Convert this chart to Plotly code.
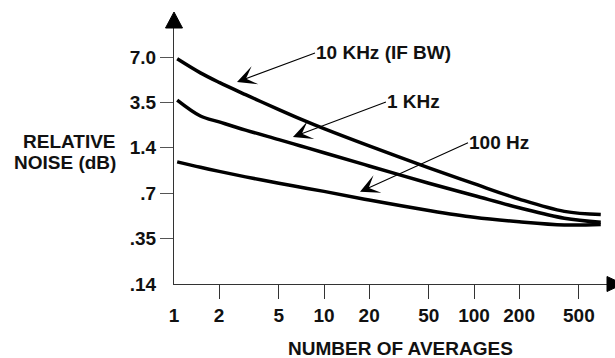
import numpy as np
import plotly.graph_objects as go

# ---- data ----
averages = [1.05, 1.5, 2, 3, 5, 7, 10, 20, 50, 100, 200, 400, 700]
# relative noise, expressed in axis-position units (0 = .14 ... 5 = 7.0)
noise_10khz = [4.96, 4.65, 4.44, 4.17, 3.84, 3.63, 3.42, 3.04, 2.56, 2.21, 1.87, 1.60, 1.53]
noise_1khz = [4.05, 3.70, 3.57, 3.39, 3.18, 3.04, 2.89, 2.60, 2.22, 1.95, 1.68, 1.45, 1.36]
noise_100hz = [2.69, 2.57, 2.48, 2.36, 2.22, 2.13, 2.04, 1.85, 1.62, 1.47, 1.37, 1.30, 1.31]

y_tick_pos = [0, 1, 2, 3, 4, 5]
y_tick_text = [".14", ".35", ".7", "1.4", "3.5", "7.0"]
x_tick_vals = [1, 2, 5, 10, 20, 50, 100, 200, 500]
x_tick_text = ["1", "2", "5", "10", "20", "50", "100", "200", "500"]

FONT = "Arial, Liberation Sans, sans-serif"
FS = 19

fig = go.Figure()
for ys in (noise_10khz, noise_1khz, noise_100hz):
    fig.add_trace(go.Scatter(x=averages, y=ys, mode="lines",
                             line=dict(color="black", width=3.5, shape="spline", smoothing=1.0),
                             showlegend=False, hoverinfo="skip"))

W, H = 615, 358
L, R, T, B = 174, 8, 28, 74
PW, PH = W - L - R, H - T - B

def px(xp):
    return (xp - L) / PW

def py(yp):
    return (H - B - yp) / PH

fig.update_layout(
    width=W, height=H,
    margin=dict(l=L, r=R, t=T, b=B, pad=0),
    paper_bgcolor="white", plot_bgcolor="white",
    font=dict(family=FONT, size=FS, color="#111", weight="bold"),
    xaxis=dict(type="log", range=[0, PW / 150.0],
               showgrid=False, zeroline=False, showline=True,
               linecolor="#333", linewidth=1.2,
               tickmode="array", tickvals=x_tick_vals, ticktext=x_tick_text,
               ticks="outside", ticklen=14, tickcolor="rgba(0,0,0,0)",
               minor=dict(tickmode="array", tickvals=x_tick_vals[1:], ticks="outside",
                          ticklen=14, tickwidth=1, tickcolor="#333", showgrid=False),
               tickfont=dict(family=FONT, size=FS, weight="bold")),
    yaxis=dict(range=[0, PH / 45.4],
               showgrid=False, zeroline=False, showline=True,
               linecolor="#333", linewidth=1.2,
               tickmode="array", tickvals=y_tick_pos, ticktext=y_tick_text,
               ticks="outside", ticklen=13, tickcolor="rgba(0,0,0,0)",
               minor=dict(tickmode="array", tickvals=y_tick_pos[1:], ticks="outside",
                          ticklen=13, tickwidth=1, tickcolor="#555", showgrid=False),
               tickfont=dict(family=FONT, size=FS, weight="bold")),
)

# axis arrowheads
fig.add_shape(type="path", xref="paper", yref="paper",
              path=f"M {px(165.5)} {py(28)} L {px(174)} {py(12)} L {px(182.5)} {py(28)} Z",
              fillcolor="black", line=dict(color="black", width=1))
fig.add_shape(type="path", xref="paper", yref="paper",
              path=f"M {px(607)} {py(276.5)} L {px(623)} {py(284)} L {px(607)} {py(291.5)} Z",
              fillcolor="black", line=dict(color="black", width=1))

# labelled arrows: (text, tip log10(x), tip y, ax, ay)
labels = [
    ("10 KHz (IF BW)", 0.42, 4.45, 78, -29),
    ("1 KHz", 0.793, 3.24, 93, -35),
    ("100 Hz", 1.24, 2.03, 108, -49),
]
for text, lx, ly, ax, ay in labels:
    fig.add_annotation(x=lx, y=ly, xref="x", yref="y", text=text,
                       showarrow=True, ax=ax, ay=ay, xanchor="left", yanchor="middle",
                       arrowhead=3, arrowsize=2.9, arrowwidth=1.1, arrowcolor="black",
                       font=dict(family=FONT, size=FS, weight="bold", color="#111"),
                       borderpad=0)

# axis titles
fig.add_annotation(text="RELATIVE", xref="paper", yref="paper", x=px(118), y=py(141),
                   xanchor="right", yanchor="middle", showarrow=False)
fig.add_annotation(text="NOISE (dB)", xref="paper", yref="paper", x=px(118), y=py(162),
                   xanchor="right", yanchor="middle", showarrow=False)
fig.add_annotation(text="NUMBER OF AVERAGES", xref="paper", yref="paper", x=px(400), y=py(348),
                   xanchor="center", yanchor="middle", showarrow=False)

fig.write_html("out.html", config={"displayModeBar": False},
               post_script="document.body.style.margin='0';document.body.style.overflow='hidden';")
